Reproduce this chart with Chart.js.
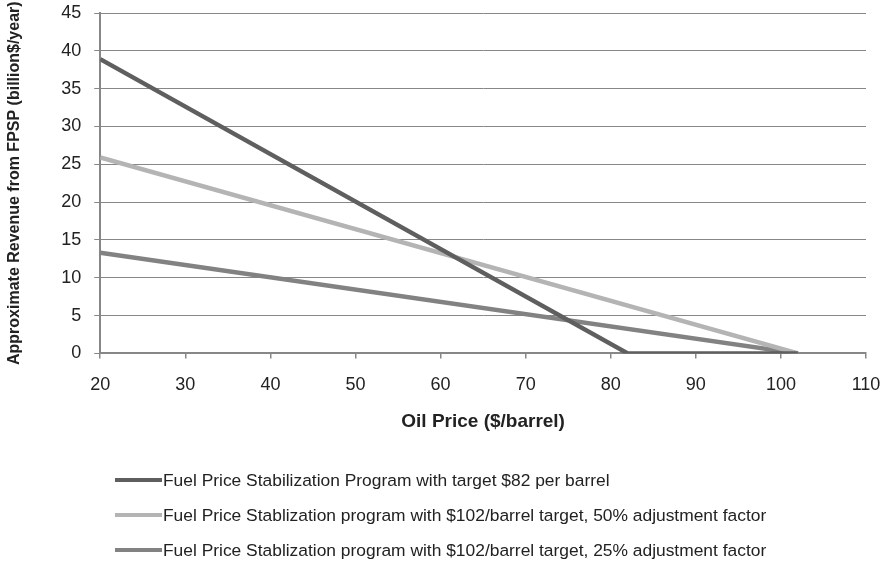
<!DOCTYPE html>
<html><head><meta charset="utf-8">
<script src="https://cdn.jsdelivr.net/npm/chart.js@4/dist/chart.umd.min.js"></script>
<style>html,body{margin:0;padding:0;background:#fff;}#wrap{width:890px;height:567px;position:relative;}</style>
</head><body><div id="wrap"><canvas id="c" width="890" height="567"></canvas></div>
<script>
const seriesLabels = [
  "Fuel Price Stabilization Program with target $82 per barrel",
  "Fuel Price Stablization program with $102/barrel target, 50% adjustment factor",
  "Fuel Price Stablization program with $102/barrel target, 25% adjustment factor"
];
const priceTarget82 = [20, 82, 102];
const revenueTarget82 = [38.9, 0, 0];
const price50 = [20, 102];
const revenue50 = [25.9, 0];
const price25 = [20, 102];
const revenue25 = [13.3, 0];
const colors = ["#5f5f5f", "#b4b4b4", "#828282"];
const FONT = '"Liberation Sans", Arial, sans-serif';

function pts(xs, ys){ return xs.map((x,i)=>({x:x, y:ys[i]})); }

const legendPlugin = {
  id:'customLegend',
  afterDraw(chart){
    const ctx = chart.ctx;
    ctx.save();
    ctx.font = '17.4px ' + FONT;
    ctx.textBaseline = 'middle';
    const ys = [480, 515, 550];
    chart.data.datasets.forEach((ds,i)=>{
      ctx.strokeStyle = ds.borderColor;
      ctx.lineWidth = 4;
      ctx.beginPath(); ctx.moveTo(115, ys[i]); ctx.lineTo(162, ys[i]); ctx.stroke();
      ctx.fillStyle = '#222';
      ctx.fillText(ds.label, 163, ys[i]+1);
    });
    ctx.restore();
  }
};

new Chart(document.getElementById('c'), {
  type:'scatter',
  data:{datasets:[
    {label:seriesLabels[0], data:pts(priceTarget82, revenueTarget82), borderColor:colors[0], backgroundColor:colors[0], showLine:true, borderWidth:4.5, pointRadius:0},
    {label:seriesLabels[1], data:pts(price50, revenue50), borderColor:colors[1], backgroundColor:colors[1], showLine:true, borderWidth:4.5, pointRadius:0},
    {label:seriesLabels[2], data:pts(price25, revenue25), borderColor:colors[2], backgroundColor:colors[2], showLine:true, borderWidth:4.5, pointRadius:0}
  ]},
  options:{
    responsive:false, animation:false,
    layout:{padding:{left:0, right:24, top:13, bottom:136}},
    plugins:{legend:{display:false}, tooltip:{enabled:false}},
    scales:{
      x:{type:'linear', min:20, max:110,
        afterFit(s){ s.paddingLeft = 0; s.paddingRight = 0; },
        ticks:{stepSize:10, color:'#222', font:{size:18, family:FONT}, padding:16},
        grid:{drawOnChartArea:false, color:'#878787', tickLength:5, lineWidth:1.5},
        border:{color:'#878787', width:2},
        title:{display:true, text:'Oil Price ($/barrel)', color:'#222', font:{size:19, weight:'bold', family:FONT, lineHeight:1}, padding:{top:0, bottom:0}}
      },
      y:{min:0, max:45,
        afterFit(s){ s.paddingTop = 0; },
        ticks:{stepSize:5, color:'#222', font:{size:18, family:FONT}, padding:13},
        grid:{color:'#878787', tickLength:6, lineWidth:1},
        border:{color:'#878787', width:2},
        title:{display:true, text:'Approximate Revenue from FPSP (billion$/year)', color:'#222', font:{size:16, weight:'bold', family:FONT}, padding:{top:5, bottom:24}}
      }
    }
  },
  plugins:[legendPlugin]
});
</script></body></html>
